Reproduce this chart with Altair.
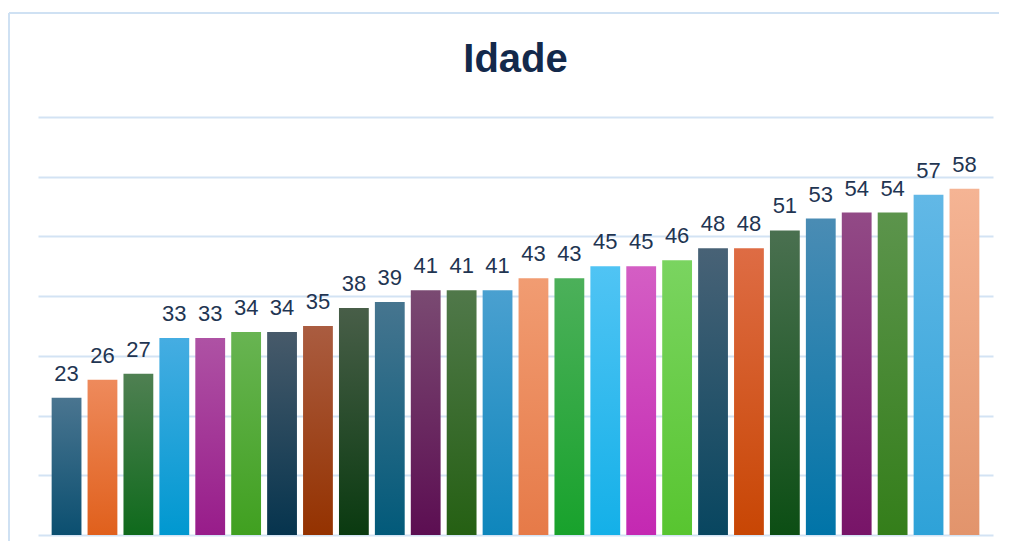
import altair as alt
import pandas as pd

values = [23, 26, 27, 33, 33, 34, 34, 35, 38, 39, 41, 41, 41, 43, 43,
          45, 45, 46, 48, 48, 51, 53, 54, 54, 57, 58]
top_colors = ["#4a7590", "#ee8a5c", "#4f8052", "#45ade2", "#ae52a4", "#68b452",
              "#475a6a", "#aa5c40", "#485e48", "#46758f", "#7a4a72", "#50784a",
              "#4aa0d0", "#f19c72", "#4cb05a", "#50c4f4", "#d45ec4", "#7ad460",
              "#486276", "#de6c44", "#4a7050", "#4a8cb4", "#924a86", "#5c944c",
              "#62b8e6", "#f5b494"]
bottom_colors = ["#0b4f70", "#e0601c", "#0f6a1c", "#0098d0", "#981c8a", "#40a020",
                 "#06344e", "#943200", "#0a3a10", "#025a7a", "#5c0e52", "#256013",
                 "#0e86bc", "#e67a48", "#18a22c", "#14b0e8", "#c428b2", "#58c530",
                 "#084660", "#c84604", "#0c4e14", "#0074a8", "#781468", "#347e1a",
                 "#2ea2d8", "#e2946c"]
title_text = "Idade"

df = pd.DataFrame({"i": list(range(len(values))), "v": values})
order = list(range(len(values)))

x_enc = alt.X("i:O", scale=alt.Scale(domain=order, paddingInner=0.17, paddingOuter=0.38), axis=None)
y_enc = alt.Y("v:Q", scale=alt.Scale(domain=[0, 70]),
              axis=alt.Axis(values=list(range(0, 71, 10)), grid=True, gridColor="#d3e3f4",
                            gridWidth=2, domain=False, ticks=False, labels=False, title=None))

base = alt.Chart(df)
layers = []
for k in range(len(values)):
    grad = alt.Gradient(gradient="linear", x1=0, x2=0, y1=0, y2=1,
                        stops=[alt.GradientStop(offset=0, color=top_colors[k]),
                               alt.GradientStop(offset=1, color=bottom_colors[k])])
    layers.append(base.transform_filter(alt.datum.i == k)
                  .mark_bar(color=grad)
                  .encode(x=x_enc, y=y_enc if k == 0 else alt.Y("v:Q")))

labels = base.mark_text(baseline="alphabetic", dy=-17, fontSize=22,
                        font="Liberation Sans", color="#1f3552").encode(
    x=x_enc, y=alt.Y("v:Q"), text="v:Q")

title = base.transform_filter(alt.datum.i == 0).mark_text(
    text=title_text, fontSize=40, fontWeight="bold", font="Liberation Sans",
    color="#13294b", baseline="alphabetic", align="center").encode(
    x=alt.value(477.5), y=alt.value(-45))

frame_top = base.transform_filter(alt.datum.i == 0).mark_rule(
    color="#cfe1f3", strokeWidth=2).encode(
    x=alt.value(-29), x2=alt.value(980), y=alt.value(-104))
frame_left = base.transform_filter(alt.datum.i == 0).mark_rule(
    color="#cfe1f3", strokeWidth=2).encode(
    x=alt.value(-29), y=alt.value(-104), y2=alt.value(460))

chart = alt.layer(*layers, labels, title, frame_top, frame_left).properties(
    width=955, height=418,
    autosize=alt.AutoSizeParams(type="none"),
    padding={"left": 30, "top": 109, "right": 6, "bottom": 6},
).configure_view(stroke=None)

chart.save("out.html", embed_options={"renderer": "svg", "actions": False})
